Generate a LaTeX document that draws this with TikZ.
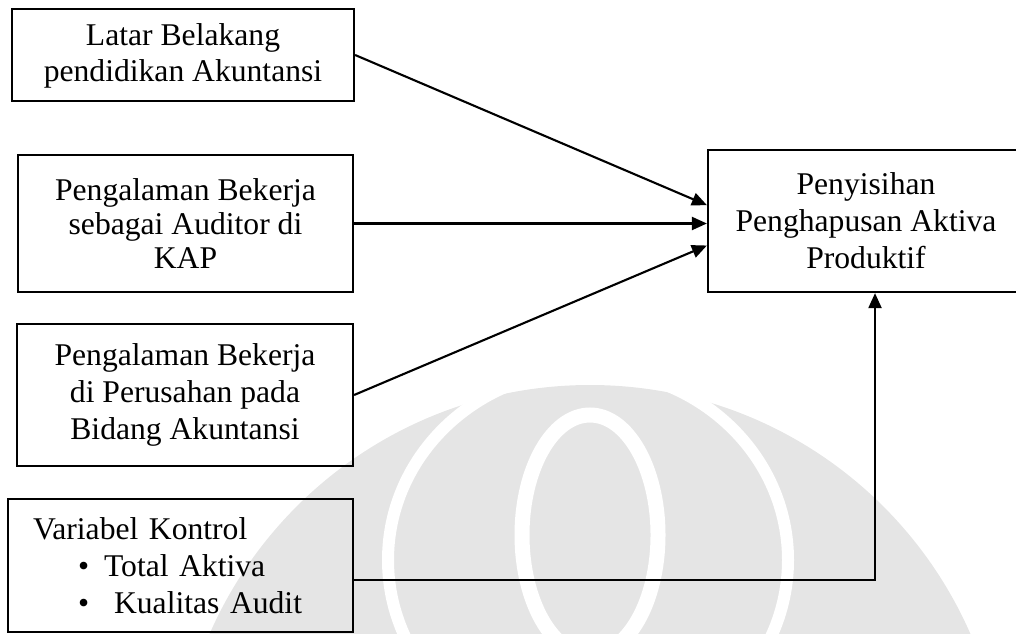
\documentclass[tikz,border=0pt]{standalone}
\usepackage{fontspec}
\setmainfont{Liberation Serif}
\usepackage{tikz}
\usetikzlibrary{arrows.meta,calc}

\tikzset{
  varbox/.style={draw,line width=1.3pt,align=center,inner sep=0pt,font=\fontsize{18}{21}\selectfont},
  link/.style={line width=1.2pt,-{Triangle[length=0.3cm,width=0.26cm]}},
  wm/.style={gray!20}
}

\begin{document}
\begin{tikzpicture}[x=0.02cm,y=-0.02cm]
  % Frame
  \useasboundingbox (0,0) rectangle (1016,634);
  \clip (0,0) rectangle (1016,634);

  % Watermark
  \fill[wm] (590,800) circle (415);
  \draw[white,line width=0.24cm] (588,560) ellipse (200 and 190);
  \draw[white,line width=0.3cm] (590,535) ellipse (68 and 120);

  % Variables
  \node[varbox,minimum width=6.84cm,minimum height=1.84cm,text depth=0.1cm] (latar) at (183,55) {Latar Belakang\\pendidikan Akuntansi};
  \node[varbox,minimum width=6.7cm,minimum height=2.74cm,font=\fontsize{18}{19.5}\selectfont] (audit) at (185.5,223.5) {Pengalaman Bekerja\\sebagai Auditor di\\KAP};
  \node[varbox,minimum width=6.72cm,minimum height=2.84cm] (perush) at (185,395) {Pengalaman Bekerja\\di Perusahan pada\\Bidang Akuntansi};
  \node[varbox,align=left,text width=5.9cm,inner xsep=0.5cm,minimum height=2.66cm] (kontrol) at (180.5,565.5) {Variabel Kontrol\\
    \hspace*{0.9cm}\textbullet\hspace{0.3cm}Total Aktiva\\
    \hspace*{0.9cm}\textbullet\hspace{0.5cm}Kualitas Audit};

  % Dependent variable
  \node[varbox,minimum width=6.32cm,minimum height=2.84cm] (ppap) at (866,221) {Penyisihan\\Penghapusan Aktiva\\Produktif};

  % Links
  \draw[link] (latar.east) -- ($(ppap.north west)!0.39!(ppap.south west)$);
  \draw[link] (audit.east) -- (audit.east -| ppap.west);
  \draw[link] (perush.east) -- ($(ppap.north west)!0.67!(ppap.south west)$);
  \draw[link] ($(kontrol.north east)!0.61!(kontrol.south east)$) -| ($(ppap.south)+(9,0)$);
\end{tikzpicture}
\end{document}
